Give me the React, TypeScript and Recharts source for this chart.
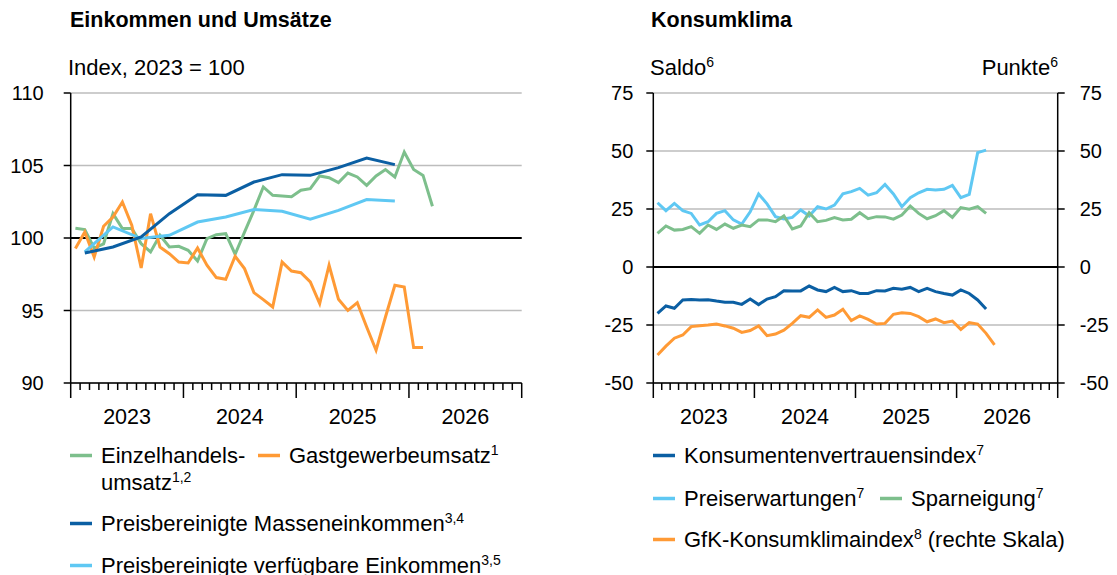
import React from 'react';
import { LineChart, Line, XAxis, YAxis, CartesianGrid, ReferenceLine } from 'recharts';

// monthly values, Jan 2023 onwards
const retailSales = [100.67, 100.58, 99.3, 99.6, 101.68, 100.65, 100.65, 99.61, 99.04, 100.19, 99.38, 99.43, 99.15, 98.41, 99.96, 100.23, 100.3, 98.88, 100.41, 101.91, 103.52, 102.94, 102.9, 102.85, 103.29, 103.4, 104.28, 104.16, 103.82, 104.48, 104.21, 103.63, 104.28, 104.72, 104.21, 105.93, 104.72, 104.32, 102.19];
const hospitalitySales = [99.27, 100.41, 98.69, 100.81, 101.45, 102.48, 100.88, 97.93, 101.68, 99.38, 98.92, 98.34, 98.28, 99.31, 98.12, 97.27, 97.15, 98.74, 97.89, 96.23, 95.75, 95.24, 98.34, 97.72, 97.61, 96.97, 95.48, 98.12, 95.77, 95.01, 95.54, 93.86, 92.26, 94.55, 96.74, 96.62, 92.44, 92.44];
// quarterly values, plotted at the middle month of each quarter (Q1 2023 onwards)
const massIncome = [98.97, 99.38, 100.07, 101.68, 102.99, 102.94, 103.86, 104.37, 104.32, 104.85, 105.52, 105.06];
const disposableIncome = [99.04, 100.76, 99.96, 100.19, 101.1, 101.45, 101.96, 101.84, 101.29, 101.91, 102.65, 102.55];

// Konsumklima, monthly from Jan 2023
const consumerConfidence = [-20.0, -16.8, -17.8, -14.2, -14.0, -14.2, -14.1, -14.7, -15.2, -15.2, -16.1, -13.8, -16.2, -13.8, -12.8, -10.2, -10.3, -10.3, -8.2, -9.9, -10.6, -8.8, -10.6, -10.2, -11.4, -11.4, -10.2, -10.3, -9.2, -9.6, -8.8, -10.6, -9.2, -10.6, -11.4, -12.1, -9.9, -11.4, -14.2, -18.1];
const priceExpectations = [27.7, 24.3, 27.4, 24.3, 23.1, 18.1, 19.5, 23.1, 24.3, 20.3, 18.5, 23.8, 31.5, 27.2, 21.7, 20.7, 21.4, 24.6, 22.0, 26.0, 25.0, 26.7, 31.5, 32.5, 33.9, 31.0, 32.0, 35.6, 31.5, 26.0, 29.9, 32.0, 33.5, 33.2, 33.5, 35.2, 29.9, 31.3, 49.3, 50.4];
const savingPropensity = [14.5, 17.7, 15.9, 16.2, 17.4, 14.5, 18.1, 16.2, 18.5, 16.7, 18.1, 17.4, 20.3, 20.3, 19.5, 22.0, 16.4, 17.7, 23.4, 19.5, 20.1, 21.3, 20.3, 20.6, 23.4, 20.8, 21.7, 21.6, 20.6, 22.4, 26.3, 23.1, 20.8, 22.1, 24.3, 21.4, 25.6, 24.9, 26.0, 23.1];
const gfkIndex = [-37.9, -34.1, -30.7, -29.3, -25.7, -25.3, -25.0, -24.6, -25.4, -26.4, -28.2, -27.4, -25.4, -29.6, -28.9, -27.2, -24.3, -21.0, -21.7, -18.5, -21.7, -20.7, -18.2, -23.1, -21.1, -22.6, -24.6, -24.3, -20.4, -19.7, -20.0, -21.4, -23.6, -22.4, -24.0, -23.3, -26.9, -24.0, -24.6, -28.6, -33.6];

const years = ['2023', '2024', '2025', '2026'];
const leftTicks = [90, 95, 100, 105, 110];
const rightTicks = [-50, -25, 0, 25, 50, 75];

const GREEN = '#7dbf8c';
const ORANGE = '#ff9a35';
const DARK = '#0b5fa3';
const LIGHT = '#5fc8f3';
const GRID = '#bdbdbd';
const FONT = '"Liberation Sans", Arial, sans-serif';

const monthTicks = Array.from({ length: years.length * 12 + 1 }, (_, i) => i);

// month index -> x at the middle of that month
const monthly = (vals: number[]) => vals.map((v, i) => ({ x: i + 0.5, v }));
const quarterly = (vals: number[]) => vals.map((v, i) => ({ x: i * 3 + 1.5, v }));

const MonthTick = (props: any) => {
  const { x, y, payload } = props;
  const m = payload.value;
  const label = m % 12 === 6 ? years[(m - 6) / 12] : null;
  return (
    <g>
      <line x1={x} x2={x} y1={y} y2={y + (m % 12 === 0 ? 15 : 7)} stroke="#000" strokeWidth={1.5} />
      {label && (
        <text x={x} y={y + 41} textAnchor="middle" fontSize={21.5} fill="#000">
          {label}
        </text>
      )}
    </g>
  );
};

const xAxisProps = {
  dataKey: 'x',
  type: 'number' as const,
  domain: [0, 48],
  ticks: monthTicks,
  interval: 0,
  tick: <MonthTick />,
  tickSize: 0,
  tickMargin: 0,
  axisLine: { stroke: '#000', strokeWidth: 1.5 },
  height: 57,
};

const Sup = ({ children }: { children: string }) => (
  <tspan fontSize={14} dy={-8}>{children}</tspan>
);

const LegendItem = ({ x, y, color, label, sup, after }: { x: number; y: number; color: string; label: string; sup?: string; after?: string }) => (
  <g>
    <line x1={x} x2={x + 22} y1={y - 7.5} y2={y - 7.5} stroke={color} strokeWidth={3.5} />
    <text x={x + 31} y={y} fontSize={22} fill="#000">
      {label}
      {sup && <Sup>{sup}</Sup>}
      {after && <tspan dy={8}>{after}</tspan>}
    </text>
  </g>
);

export default function App() {
  return (
    <div style={{ position: 'absolute', left: 0, top: 0, width: 1117, height: 575, background: '#fff', fontFamily: FONT, overflow: 'hidden' }}>
      <div style={{ position: 'absolute', left: 0, top: 0 }}>
        <LineChart width={560} height={440} margin={{ top: 93, right: 38.3, bottom: 0, left: 0 }}>
          <CartesianGrid horizontal vertical={false} stroke={GRID} strokeWidth={1.5} />
          <XAxis {...xAxisProps} />
          <YAxis
            type="number"
            domain={[90, 110]}
            ticks={leftTicks}
            width={70.7}
            tickSize={7}
            tickMargin={20}
            tick={{ fontSize: 20, fill: '#000' }}
            tickLine={{ stroke: '#000', strokeWidth: 1.5 }}
            axisLine={{ stroke: '#000', strokeWidth: 1.5 }}
          />
          <ReferenceLine y={100} stroke="#000" strokeWidth={2} />
          <Line data={monthly(retailSales)} dataKey="v" stroke={GREEN} strokeWidth={3} dot={false} isAnimationActive={false} />
          <Line data={monthly(hospitalitySales)} dataKey="v" stroke={ORANGE} strokeWidth={3} dot={false} isAnimationActive={false} />
          <Line data={quarterly(disposableIncome)} dataKey="v" stroke={LIGHT} strokeWidth={3} dot={false} isAnimationActive={false} />
          <Line data={quarterly(massIncome)} dataKey="v" stroke={DARK} strokeWidth={3} dot={false} isAnimationActive={false} />
        </LineChart>
      </div>

      <div style={{ position: 'absolute', left: 560, top: 0 }}>
        <LineChart width={557} height={440} margin={{ top: 93, right: 0, bottom: 0, left: 0 }}>
          <CartesianGrid horizontal vertical={false} stroke={GRID} strokeWidth={1.5} yAxisId="left" />
          <XAxis {...xAxisProps} />
          <YAxis
            yAxisId="left"
            type="number"
            domain={[-50, 75]}
            ticks={rightTicks}
            width={93.3}
            tickSize={7}
            tickMargin={13}
            tick={{ fontSize: 20, fill: '#000' }}
            tickLine={{ stroke: '#000', strokeWidth: 1.5 }}
            axisLine={{ stroke: '#000', strokeWidth: 1.5 }}
          />
          <YAxis
            yAxisId="right"
            orientation="right"
            type="number"
            domain={[-50, 75]}
            ticks={rightTicks}
            width={59.3}
            tickSize={7}
            tickMargin={15}
            tick={{ fontSize: 20, fill: '#000', textAnchor: 'start' }}
            tickLine={{ stroke: '#000', strokeWidth: 1.5 }}
            axisLine={{ stroke: '#000', strokeWidth: 1.5 }}
          />
          <ReferenceLine y={0} yAxisId="left" stroke="#000" strokeWidth={2} />
          <Line yAxisId="left" data={monthly(priceExpectations)} dataKey="v" stroke={LIGHT} strokeWidth={3} dot={false} isAnimationActive={false} />
          <Line yAxisId="left" data={monthly(savingPropensity)} dataKey="v" stroke={GREEN} strokeWidth={3} dot={false} isAnimationActive={false} />
          <Line yAxisId="left" data={monthly(consumerConfidence)} dataKey="v" stroke={DARK} strokeWidth={3} dot={false} isAnimationActive={false} />
          <Line yAxisId="right" data={monthly(gfkIndex)} dataKey="v" stroke={ORANGE} strokeWidth={3} dot={false} isAnimationActive={false} />
        </LineChart>
      </div>

      <svg width={1117} height={575} style={{ position: 'absolute', left: 0, top: 0, pointerEvents: 'none', fontFamily: FONT }}>
        <text x={70} y={27} fontSize={21.5} fontWeight="bold">Einkommen und Umsätze</text>
        <text x={651} y={27} fontSize={21.5} fontWeight="bold">Konsumklima</text>
        <text x={68} y={75} fontSize={22}>Index, 2023 = 100</text>
        <text x={650} y={75} fontSize={22}>Saldo<Sup>6</Sup></text>
        <text x={1058} y={75} fontSize={22} textAnchor="end">Punkte<Sup>6</Sup></text>

        <LegendItem x={70} y={463} color={GREEN} label="Einzelhandels-" />
        <text x={101} y={490} fontSize={22}>umsatz<Sup>1,2</Sup></text>
        <LegendItem x={258} y={463} color={ORANGE} label="Gastgewerbeumsatz" sup="1" />
        <LegendItem x={70} y={531} color={DARK} label="Preisbereinigte Masseneinkommen" sup="3,4" />
        <LegendItem x={70} y={573} color={LIGHT} label="Preisbereinigte verfügbare Einkommen" sup="3,5" />

        <LegendItem x={653} y={463} color={DARK} label="Konsumentenvertrauensindex" sup="7" />
        <LegendItem x={653} y={506} color={LIGHT} label="Preiserwartungen" sup="7" />
        <LegendItem x={880} y={506} color={GREEN} label="Sparneigung" sup="7" />
        <LegendItem x={653} y={547} color={ORANGE} label="GfK-Konsumklimaindex" sup="8" after=" (rechte Skala)" />
      </svg>
    </div>
  );
}
